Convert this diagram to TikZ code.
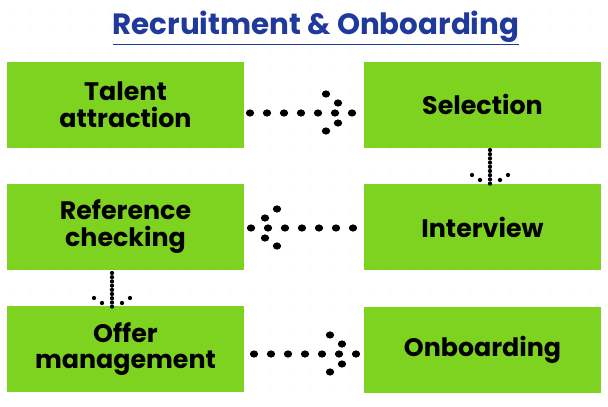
\documentclass[tikz,border=0pt]{standalone}
\usepackage{fontspec}
\setmainfont{Poppins}
\usetikzlibrary{positioning}
\definecolor{boxgreen}{HTML}{7ED321}
\definecolor{titleblue}{HTML}{1F3A9A}
\tikzset{
  stepbox/.style={fill=boxgreen,minimum width=177.75pt,minimum height=64.5pt,inner sep=0pt,
    align=center,font=\bfseries\fontsize{19}{20}\selectfont,text=black},
  bigdot/.style={fill=black,x radius=3.1pt,y radius=2.7pt},
  smalldot/.style={fill=black,radius=1.6pt},
}
\begin{document}
\begin{tikzpicture}[x=0.75pt,y=-0.75pt]
  \fill[white] (0,0) rectangle (608,407);
  \useasboundingbox (0,0) rectangle (608,407);
  % faint grid of dots
  \foreach \gx in {10,30,...,600}
    \foreach \gy in {10,30,...,400}
      \fill[black!12] (\gx,\gy) circle (0.5pt);
  \node[font=\bfseries\fontsize{22}{24}\selectfont,text=titleblue] (title) at (316,28)
    {\underline{Recruitment \& Onboarding}};
  % boxes
  \node[stepbox] (talent) at (125.5,104.5) {Talent\\attraction};
  \node[stepbox] (select) at (482.5,104.5) {Selection};
  \node[stepbox,right=0pt of talent.east,anchor=east,yshift=-91.5pt] (refcheck) {Reference\\checking};
  \node[stepbox,below=27pt of select] (interview) {Interview};
  \node[stepbox,below=27pt of refcheck] (offer) {Offer\\management};
  \node[stepbox,below=27pt of interview] (onboard) {Onboarding};
  % dotted arrows, horizontal
  \foreach \sx/\sy/\dir in {250/113/1, 353/228/-1, 254/354/1}{
    \foreach \i in {0,...,6}
      \fill[bigdot] (\sx+\dir*\i*17,\sy) ellipse [];
    \foreach \hx/\hy in {76/-19, 88/-10, 88/10, 76/18}
      \fill[bigdot] (\sx+\dir*\hx,\sy+\hy) ellipse [];
  }
  % dotted arrows, vertical
  \foreach \sx/\sy in {490/150, 112/273}{
    \foreach \i in {0,...,8}
      \fill[smalldot] (\sx,\sy+\i*4.2) circle [];
    \foreach \hx/\hy in {-18/25, -10/30, 10/30, 18/25}
      \fill[smalldot] (\sx+\hx,\sy+\hy) circle [];
  }
\end{tikzpicture}
\end{document}
